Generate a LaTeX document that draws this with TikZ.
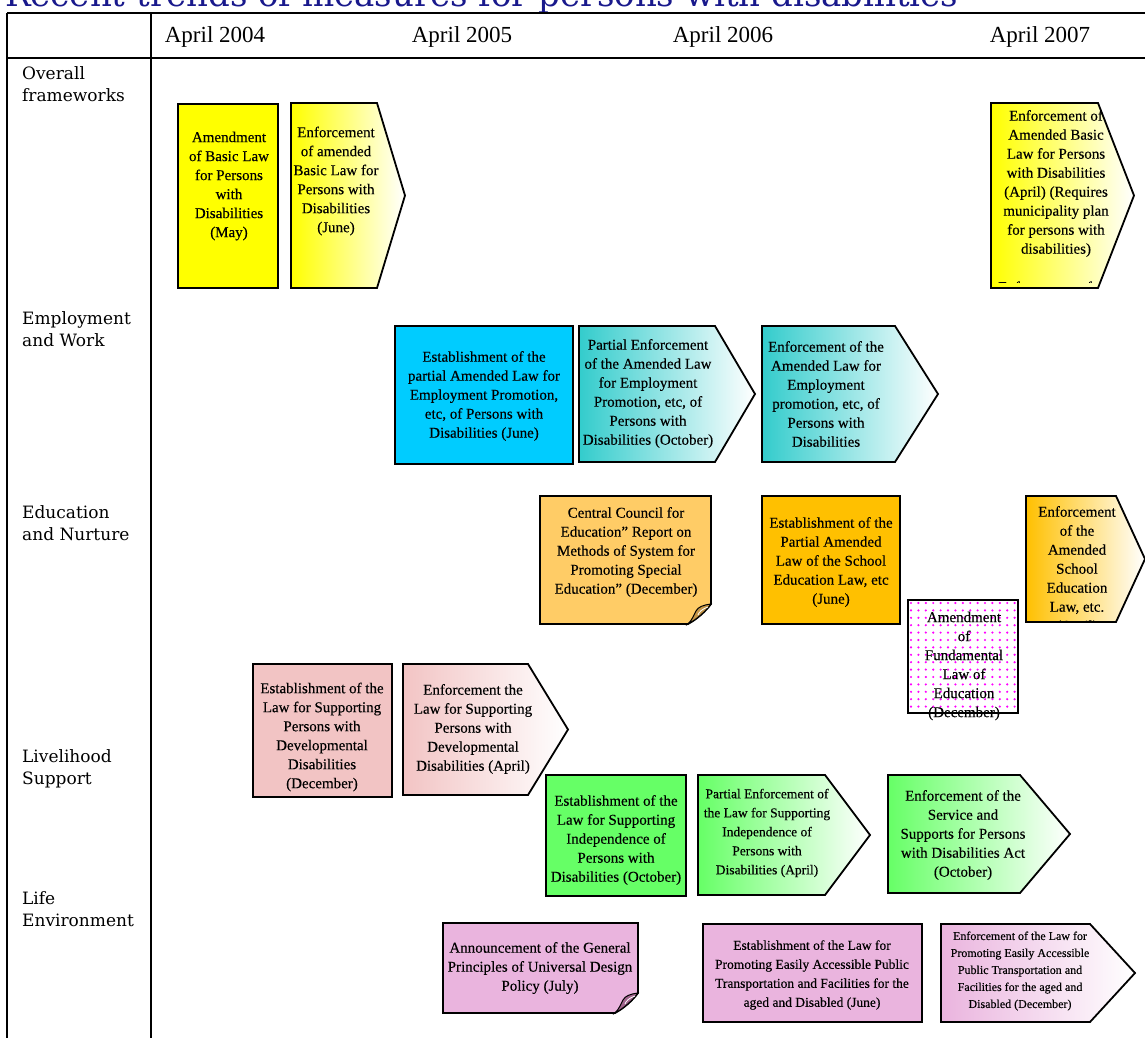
\documentclass[tikz,border=0pt]{standalone}
\usepackage{fontspec}
\setmainfont{Liberation Serif}
\newfontfamily\panelfont{Liberation Serif}[FakeBold=0.3]
\newfontfamily\labelfont{DejaVu Serif}
\newfontfamily\titlefont{DejaVu Serif}

\definecolor{navytitle}{RGB}{25,25,140}
\definecolor{basicyellow}{RGB}{255,255,0}
\definecolor{employblue}{RGB}{0,204,255}
\definecolor{employteal}{RGB}{51,204,204}
\definecolor{councilorange}{RGB}{255,204,102}
\definecolor{schoolorange}{RGB}{255,192,0}
\definecolor{devpink}{RGB}{242,196,196}
\definecolor{supportgreen}{RGB}{102,255,102}
\definecolor{udviolet}{RGB}{234,180,222}
\definecolor{dotmagenta}{RGB}{255,0,255}
\definecolor{curlorange}{RGB}{196,150,72}
\definecolor{curlviolet}{RGB}{160,100,140}

\tikzset{
  gridline/.style={line width=1.3pt, black},
  boxline/.style={line width=1.8pt, black, line join=miter},
  boxtext/.style={align=center, inner sep=0pt, font=\panelfont\fontsize{15}{19}\selectfont},
  smalltext/.style={boxtext, font=\panelfont\fontsize{13.5}{19}\selectfont},
  tinytext/.style={boxtext, font=\panelfont\fontsize{12}{17}\selectfont},
  rowlabel/.style={anchor=west, align=left, inner sep=0pt, font=\labelfont\fontsize{17}{22}\selectfont},
  yearlabel/.style={inner sep=0pt, font=\fontsize{23}{28}\selectfont},
}

% arrow-shaped panel: left x, top y, corner x, tip x, bottom y, colour
\newcommand{\arrowpanel}[6]{%
  \shade[left color=#6, right color=white] (#1,#2) -- (#3,#2) -- (#4,{(#2+#5)/2}) -- (#3,#5) -- (#1,#5) -- cycle;
  \draw[boxline] (#1,#2) -- (#3,#2) -- (#4,{(#2+#5)/2}) -- (#3,#5) -- (#1,#5) -- cycle;}
\newcommand{\arrowclip}[5]{%
  \clip (#1,#2) -- (#3,#2) -- (#4,{(#2+#5)/2}) -- (#3,#5) -- (#1,#5) -- cycle;}
% plain panel: left x, top y, right x, bottom y, colour
\newcommand{\plainpanel}[5]{%
  \filldraw[boxline, fill=#5] (#1,#2) rectangle (#3,#4);}
% note panel with a curled lower right corner: left, top, right, bottom, colour, curl colour
\newcommand{\notepanel}[6]{%
  \filldraw[boxline, fill=#5] (#1,#2) -- (#3,#2) -- (#3,#4-20)
    .. controls (#3-6,#4-12) and (#3-14,#4-5) .. (#3-23,#4) -- (#1,#4) -- cycle;
  \filldraw[fill=#6, draw=black, line width=1pt] (#3,#4-20)
    .. controls (#3-8,#4-19) and (#3-13,#4-17) .. (#3-15,#4-13)
    .. controls (#3-17,#4-9) and (#3-19,#4-4) .. (#3-23,#4)
    .. controls (#3-14,#4-5) and (#3-6,#4-12) .. cycle;
  \draw[white, line width=0.8pt] (#3-3,#4-17) .. controls (#3-9,#4-15) and (#3-12,#4-12) .. (#3-13,#4-9);}

\begin{document}
\begin{tikzpicture}[x=1pt,y=-1pt]
\useasboundingbox (0,0) rectangle (1145,1038);

% heading, cut by the upper page edge
\node[anchor=base west, inner sep=0pt, text=navytitle,
      font=\titlefont\fontsize{34}{40}\selectfont] (title) at (5,7)
  {Recent trends of measures for persons with disabilities};

% table frame
\draw[gridline] (7,13) -- (1145,13);
\draw[gridline] (7,58) -- (1145,58);
\draw[gridline] (7,13) -- (7,1038);
\draw[gridline] (151,13) -- (151,1038);

% time axis
\node[yearlabel] (y2004) at (215,37) {April 2004};
\node[yearlabel] (y2005) at (462,37) {April 2005};
\node[yearlabel] (y2006) at (723,37) {April 2006};
\node[yearlabel] (y2007) at (1040,37) {April 2007};

% policy areas
\node[rowlabel] (rowframe) at (22,84) {Overall\\frameworks};
\node[rowlabel] (rowwork) at (22,329) {Employment\\and Work};
\node[rowlabel] (rowedu) at (22,523) {Education\\and Nurture};
\node[rowlabel] (rowlife) at (22,769) {Livelihood\\Support};
\node[rowlabel] (rowenv) at (22,909) {Life\\Environment};

% ---- Overall frameworks
\plainpanel{178}{104}{278}{288}{basicyellow}
\node[boxtext] (basicamend) at (229,186)
  {Amendment\\of Basic Law\\for Persons\\with\\Disabilities\\(May)};
\arrowpanel{291}{103}{377}{405}{288}{basicyellow}
\node[boxtext] (basicenf) at (336,181)
  {Enforcement\\of amended\\Basic Law for\\Persons with\\Disabilities\\(June)};
\arrowpanel{991}{103}{1098}{1134}{288}{basicyellow}
\begin{scope}
  \arrowclip{991}{103}{1098}{1134}{288}
  \node[boxtext] (basicplan) at (1056,183.5)
    {Enforcement of\\Amended Basic\\Law for Persons\\with Disabilities\\(April) (Requires\\municipality plan\\for persons with\\disabilities)};
  \clip (991,103) rectangle (1145,282);
  \node[boxtext, anchor=base west] (basicmore) at (998,292) {Enforcement of the};
\end{scope}

% ---- Employment and Work
\plainpanel{395}{326}{573}{464}{employblue}
\node[boxtext] (workest) at (484,396)
  {Establishment of the\\partial Amended Law for\\Employment Promotion,\\etc, of Persons with\\Disabilities (June)};
\arrowpanel{579}{326}{715}{755}{462}{employteal}
\node[boxtext] (workpart) at (648,393.5)
  {Partial Enforcement\\of the Amended Law\\for Employment\\Promotion, etc, of\\Persons with\\Disabilities (October)};
\arrowpanel{762}{326}{895}{938}{462}{employteal}
\node[boxtext] (workenf) at (826,394)
  {Enforcement of the\\Amended Law for\\Employment\\promotion, etc, of\\Persons with\\Disabilities};

% ---- Education and Nurture
\notepanel{540}{496}{711}{624}{councilorange}{curlorange}
\node[boxtext] (council) at (626,552)
  {Central Council for\\Education” Report on\\Methods of System for\\Promoting Special\\Education” (December)};
\plainpanel{762}{496}{900}{624}{schoolorange}
\node[boxtext] (schoolest) at (831,562)
  {Establishment of the\\Partial Amended\\Law of the School\\Education Law, etc\\(June)};
\arrowpanel{1026}{496}{1116}{1145}{622}{schoolorange}
\begin{scope}
  \arrowclip{1026}{496}{1116}{1145}{622}
  \node[boxtext] (schoolenf) at (1077,570)
    {Enforcement\\of the\\Amended\\School\\Education\\Law, etc.\\(April)};
\end{scope}
\filldraw[boxline, fill=white] (908,600) rectangle (1018,713);
\begin{scope}
  \clip (908,600) rectangle (1018,713);
  \foreach \i in {0,...,15}
    \foreach \j in {0,...,16}
      \fill[dotmagenta] (911+\i*7.4,603+\j*7.4) circle (1.2pt);
\end{scope}
\draw[boxline] (908,600) rectangle (1018,713);
\node[boxtext] (fundlaw) at (964,666)
  {Amendment\\of\\Fundamental\\Law of\\Education\\(December)};

% ---- Livelihood Support
\plainpanel{253}{664}{392}{797}{devpink}
\node[boxtext] (devest) at (322,737)
  {Establishment of the\\Law for Supporting\\Persons with\\Developmental\\Disabilities\\(December)};
\arrowpanel{403}{664}{528}{568}{795}{devpink}
\node[boxtext] (devenf) at (473,729)
  {Enforcement the\\Law for Supporting\\Persons with\\Developmental\\Disabilities (April)};
\plainpanel{546}{775}{686}{896}{supportgreen}
\node[boxtext] (indest) at (616,840)
  {Establishment of the\\Law for Supporting\\Independence of\\Persons with\\Disabilities (October)};
\arrowpanel{698}{775}{825}{870}{895}{supportgreen}
\node[smalltext] (indpart) at (767,833)
  {Partial Enforcement of\\the Law for Supporting\\Independence of\\Persons with\\Disabilities (April)};
\arrowpanel{888}{775}{1020}{1070}{893}{supportgreen}
\node[boxtext] (servact) at (963,835)
  {Enforcement of the\\Service and\\Supports for Persons\\with Disabilities Act\\(October)};

% ---- Life Environment
\notepanel{443}{923}{638}{1013}{udviolet}{curlviolet}
\node[boxtext] (udpolicy) at (540,968)
  {Announcement of the General\\Principles of Universal Design\\Policy (July)};
\plainpanel{703}{924}{922}{1022}{udviolet}
\node[smalltext] (accest) at (812,975)
  {Establishment of the Law for\\Promoting Easily Accessible Public\\Transportation and Facilities for the\\aged and Disabled (June)};
\arrowpanel{941}{924}{1090}{1135}{1022}{udviolet}
\node[tinytext] (accenf) at (1020,971)
  {Enforcement of the Law for\\Promoting Easily Accessible\\Public Transportation and\\Facilities for the aged and\\Disabled (December)};

\end{tikzpicture}
\end{document}
